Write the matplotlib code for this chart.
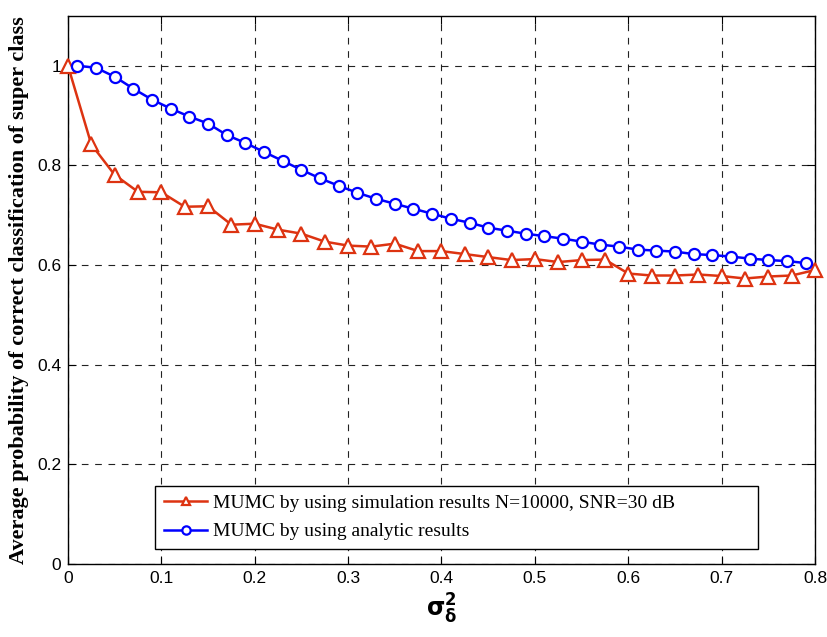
import matplotlib
matplotlib.use("Agg")
import matplotlib.pyplot as plt
from matplotlib import font_manager

# simulation results (triangles)
x_sim = [0, 0.025, 0.05, 0.075, 0.1, 0.125, 0.15, 0.175, 0.2, 0.225, 0.25,
         0.275, 0.3, 0.325, 0.35, 0.375, 0.4, 0.425, 0.45, 0.475, 0.5,
         0.525, 0.55, 0.575, 0.6, 0.625, 0.65, 0.675, 0.7, 0.725, 0.75,
         0.775, 0.8]
y_sim = [1.0, 0.842, 0.781, 0.747, 0.746, 0.717, 0.718, 0.681, 0.683, 0.671, 0.663,
         0.647, 0.639, 0.637, 0.643, 0.628, 0.628, 0.622, 0.616, 0.610, 0.612,
         0.606, 0.610, 0.611, 0.583, 0.579, 0.579, 0.581, 0.578, 0.573, 0.577,
         0.579, 0.590]

# analytic results (circles)
x_ana = [0.01, 0.03, 0.05, 0.07, 0.09, 0.11, 0.13, 0.15, 0.17, 0.19,
         0.21, 0.23, 0.25, 0.27, 0.29, 0.31, 0.33, 0.35, 0.37, 0.39,
         0.41, 0.43, 0.45, 0.47, 0.49, 0.51, 0.53, 0.55, 0.57, 0.59,
         0.61, 0.63, 0.65, 0.67, 0.69, 0.71, 0.73, 0.75, 0.77, 0.79]
y_ana = [1.0, 0.996, 0.978, 0.954, 0.932, 0.914, 0.898, 0.884, 0.861, 0.845,
         0.827, 0.809, 0.791, 0.774, 0.759, 0.745, 0.733, 0.723, 0.713, 0.703,
         0.693, 0.685, 0.675, 0.669, 0.663, 0.658, 0.653, 0.647, 0.641, 0.637,
         0.631, 0.629, 0.627, 0.622, 0.620, 0.617, 0.613, 0.610, 0.608, 0.604]

xticks = [0, 0.1, 0.2, 0.3, 0.4, 0.5, 0.6, 0.7, 0.8]
xticklabels = ["0", "0.1", "0.2", "0.3", "0.4", "0.5", "0.6", "0.7", "0.8"]
yticks = [0, 0.2, 0.4, 0.6, 0.8, 1.0]
yticklabels = ["0", "0.2", "0.4", "0.6", "0.8", "1"]

label_sim = "MUMC by using simulation results N=10000, SNR=30 dB"
label_ana = "MUMC by using analytic results"

red = "#DD3311"
blue = "#0000FF"

# narrow sans for tick labels if it is there
try:
    font_manager.findfont("Liberation Sans Narrow", fallback_to_default=False)
    tick_font = "Liberation Sans Narrow"
    tick_size = 14
except ValueError:
    tick_font = "Liberation Sans"
    tick_size = 12.5

fig = plt.figure(figsize=(8.27, 6.37), dpi=100)
ax = fig.add_axes([0.0822, 0.1146, 0.9033, 0.8604])

ax.plot(x_sim, y_sim, color=red, lw=1.8, marker="^", ms=10, mew=1.6,
        mfc="white", mec=red, label=label_sim, zorder=3, clip_on=False)
ax.plot(x_ana, y_ana, color=blue, lw=1.8, marker="o", ms=8, mew=1.6,
        mfc="white", mec=blue, label=label_ana, zorder=3, clip_on=False)

ax.set_xlim(0, 0.8)
ax.set_ylim(0, 1.1)
ax.set_xticks(xticks)
ax.set_xticklabels(xticklabels)
ax.set_yticks(yticks)
ax.set_yticklabels(yticklabels)

for lab in ax.get_xticklabels() + ax.get_yticklabels():
    lab.set_family(tick_font)
    lab.set_fontsize(tick_size)

ax.tick_params(direction="in", top=True, right=True, length=6, width=0.8, pad=5)
ax.grid(True, color="#222222", linestyle=(0, (6, 6)), linewidth=0.8)
for s in ax.spines.values():
    s.set_linewidth(1.0)

ax.set_ylabel("Average probability of correct classification of super class",
              family="Liberation Serif", fontweight="bold", fontsize=16, labelpad=6)
ax.set_xlabel(r"$\mathbf{\sigma_\delta^2}$", fontsize=17, labelpad=4)

leg = ax.legend(loc="lower left", bbox_to_anchor=(0.117, 0.027, 0.807, 0.1),
                mode="expand",
                prop={"family": "Liberation Serif", "size": 14},
                fancybox=False, edgecolor="black", framealpha=1,
                handlelength=2.2, borderpad=0.45, labelspacing=0.55,
                handletextpad=0.3, borderaxespad=0)
leg.get_frame().set_linewidth(1.0)
for h in leg.legend_handles:
    h.set_markersize(6)

fig.savefig("out.png", dpi=100)
